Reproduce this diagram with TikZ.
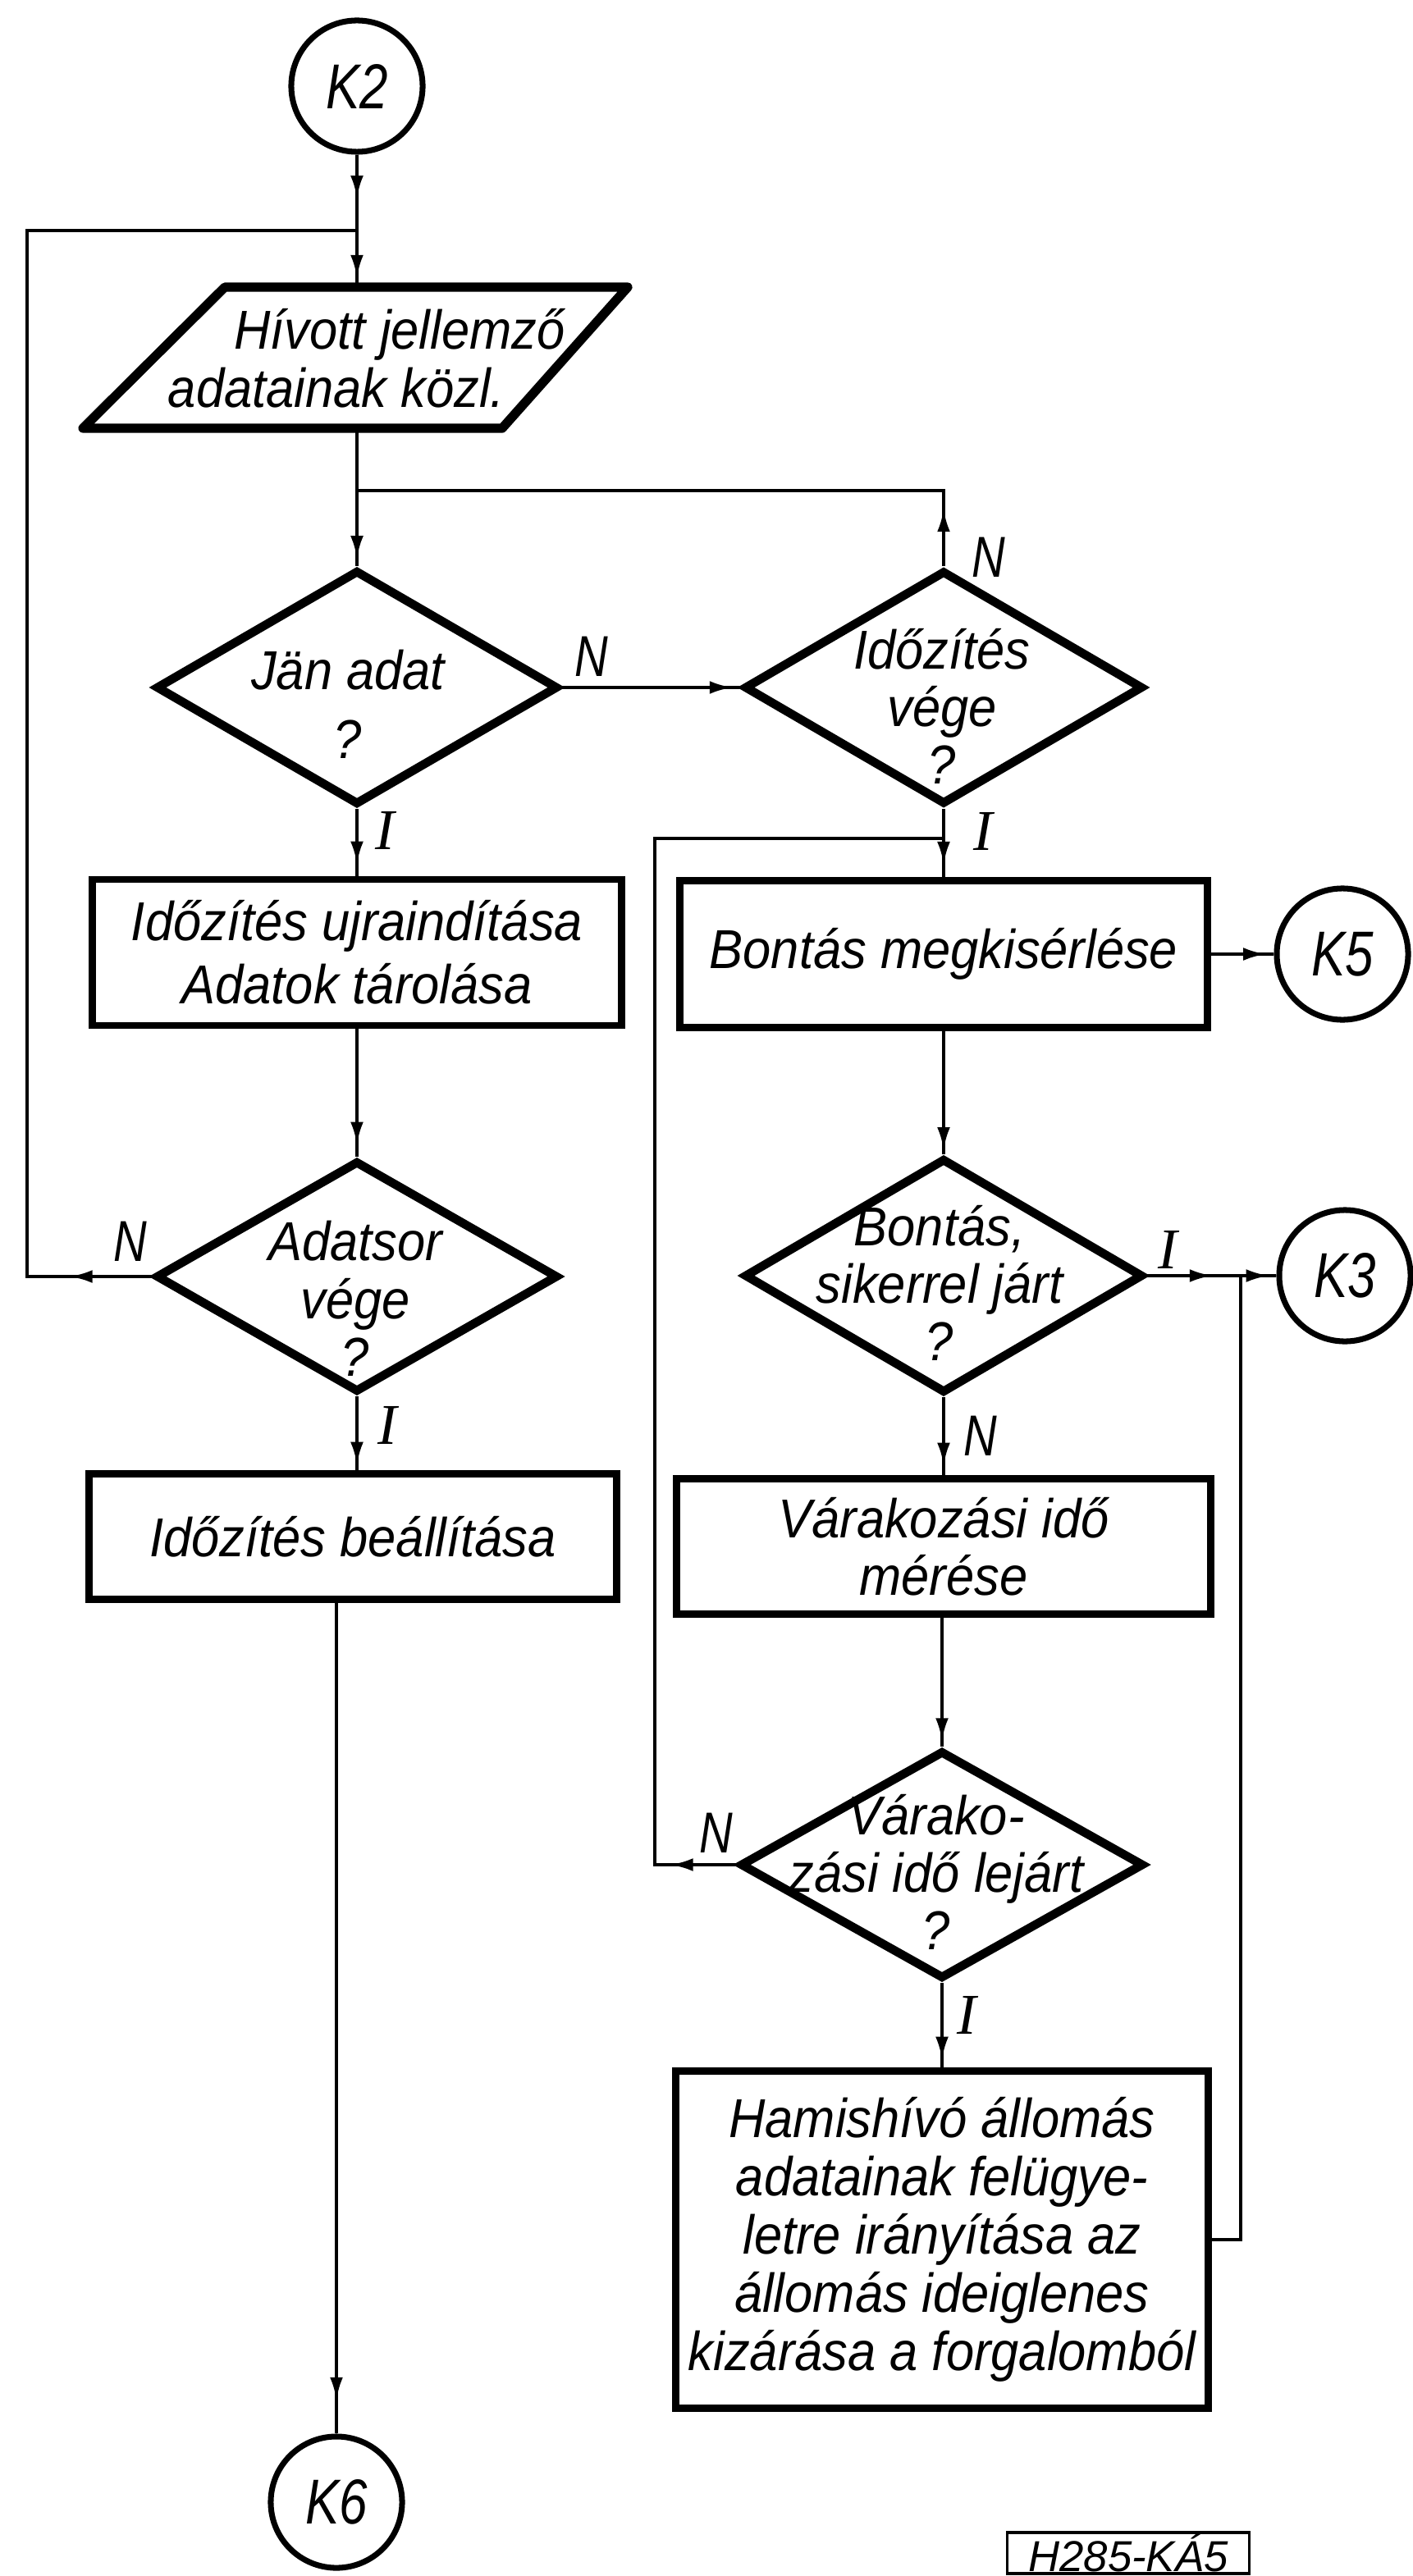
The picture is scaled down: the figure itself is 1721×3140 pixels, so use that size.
\documentclass[tikz,border=0pt]{standalone}
\usepackage{fontspec}
\setmainfont{Liberation Sans}
\newfontfamily\tf{Liberation Sans}[FakeStretch=0.92]
\newfontfamily\tfk{Liberation Sans}[FakeStretch=0.8]
\newfontfamily\lserif{Liberation Serif}
\usetikzlibrary{shapes.geometric,arrows.meta,decorations.markings}
\tikzset{
  conn/.style={line width=1.2pt},
  arr/.style={postaction={decorate}, decoration={markings, mark=at position #1 with {\arrow{Latex[length=8pt,width=4.5pt]}}}},
  dia/.style={diamond, draw, line width=3pt, inner sep=0pt},
  bx/.style={rectangle, draw, line width=2.5pt, inner sep=0pt},
  cir/.style={circle, draw, line width=2pt, minimum size=1.6cm, inner sep=0pt, font=\tfk\itshape\fontsize{22}{24}\selectfont},
  txt/.style={align=center, inner sep=0pt, font=\tf\itshape\fontsize{19}{#1}\selectfont},
  txt/.default=20,
  lbN/.style={inner sep=0pt, font=\tfk\itshape\fontsize{20}{20}\selectfont},
  lbI/.style={inner sep=0pt, font=\lserif\itshape\fontsize{20}{20}\selectfont},
}
\begin{document}
\begin{tikzpicture}[x=0.01cm,y=-0.01cm]
\useasboundingbox (0,0) rectangle (1721,3140);
% ---- left column
\node[cir] (k2) at (435,105) {K2};
\coordinate (j1) at (435,281);
\coordinate (parT) at (435,350);
\coordinate (parB) at (435,522);
\coordinate (j2) at (435,598);
\draw[line width=3.2pt, line join=round] (274,350) -- (765,350) -- (612,522) -- (101,522) -- cycle;
\node[txt=20.1] (par) at (448,437) {\hspace*{0.78cm}Hívott jellemző\\adatainak közl.\hspace*{0.76cm}};
\node[dia, minimum width=4.9cm, minimum height=2.86cm] (jan) at (435,838) {};
\node[txt=24] (janT) at (424,858) {Jän adat\\?};
\node[bx, txt=22, minimum width=6.45cm, minimum height=1.78cm] (box1) at (435,1161) {Időzítés ujraindítása\\Adatok tárolása};
\node[dia, minimum width=4.9cm, minimum height=2.82cm] (ads) at (435,1556) {};
\node[txt] (adsT) at (433,1583) {Adatsor\\vége\\?};
\node[bx, txt, minimum width=6.43cm, minimum height=1.53cm] (box2) at (430,1873) {Időzítés beállítása};
\node[cir] (k6) at (410,3050) {K6};
\coordinate (lc1) at (33,1556);
\coordinate (lc2) at (33,281);
% ---- right column
\node[dia, minimum width=4.86cm, minimum height=2.85cm] (ido) at (1150,838) {};
\node[txt] (idoT) at (1148,861) {Időzítés\\vége\\?};
\coordinate (j3) at (1150,1022);
\node[bx, txt, minimum width=6.42cm, minimum height=1.79cm] (bont) at (1150,1163) {Bontás megkisérlése};
\node[cir] (k5) at (1636,1163) {K5};
\node[dia, minimum width=4.86cm, minimum height=2.86cm] (bsik) at (1150,1555) {};
\node[txt] (bsikT) at (1145,1564) {Bontás,\\sikerrel járt\\?};
\coordinate (j4) at (1512,1555);
\node[cir] (k3) at (1639,1555) {K3};
\node[bx, txt, minimum width=6.51cm, minimum height=1.65cm] (var) at (1150,1885) {Várakozási idő\\mérése};
\node[dia, minimum width=4.92cm, minimum height=2.78cm] (vd) at (1148,2273) {};
\node[txt] (vdT) at (1141,2282) {Várako-\\zási idő lejárt\\?};
\coordinate (rc1) at (798,2273);
\coordinate (rc2) at (798,1022);
\node[bx, txt=20.2, minimum width=6.48cm, minimum height=4.11cm] (ham) at (1148,2730) {Hamishívó állomás\\adatainak felügye-\\letre irányítása az\\állomás ideiglenes\\kizárása a forgalomból};
\node[draw, line width=0.9pt, inner sep=0pt, minimum width=2.95cm, minimum height=0.5cm, font=\itshape\fontsize{15}{15}\selectfont] (ref) at (1375,3112) {H285-KÁ5};
% ---- connectors
\draw[conn, arr=0.58] (k2.south) -- (j1);
\draw[conn, arr=0.84] (j1) -- (parT);
\draw[conn, arr=0.95] (parB) -- (jan.north);
\draw[conn, arr=0.7cm] (ido.north) -- (ido.north |- j2) -- (j2);
\draw[conn, arr=0.96] (jan.east) -- (ido.west);
\draw[conn, arr=0.83] (jan.south) -- (box1.north);
\draw[conn, arr=0.91] (box1.south) -- (ads.north);
\draw[conn, arr=1cm] (ads.west) -- (lc1) -- (lc2) -- (j1);
\draw[conn, arr=0.93] (ads.south) -- (ads.south |- box2.north);
\draw[conn, arr=0.96] (box2.south -| k6.north) -- (k6.north);
\draw[conn, arr=0.82] (ido.south) -- (bont.north);
\draw[conn, arr=0.8cm] (vd.west) -- (rc1) -- (rc2) -- (j3);
\draw[conn, arr=0.88] (bont.east) -- (k5.west);
\draw[conn, arr=0.97] (bont.south) -- (bsik.north);
\draw[conn, arr=0.7] (bsik.east) -- (j4);
\draw[conn, arr=0.8] (j4) -- (k3.west);
\draw[conn, arr=0.88] (bsik.south) -- (var.north);
\draw[conn, arr=0.96] (var.south -| vd.north) -- (vd.north);
\draw[conn, arr=0.91] (vd.south) -- (vd.south |- ham.north);
\draw[conn] (ham.east) -- (ham.east -| j4) -- (j4);
% ---- branch labels
\node[lbN] (nA) at (721,800) {N};
\node[lbI] (iA) at (469,1012) {I};
\node[lbN] (nB) at (1205,679) {N};
\node[lbI] (iB) at (1198,1013) {I};
\node[lbN] (nC) at (159,1513) {N};
\node[lbI] (iC) at (472,1737) {I};
\node[lbI] (iD) at (1423,1523) {I};
\node[lbN] (nD) at (1195,1750) {N};
\node[lbN] (nE) at (873,2234) {N};
\node[lbI] (iE) at (1178,2456) {I};
\end{tikzpicture}
\end{document}
